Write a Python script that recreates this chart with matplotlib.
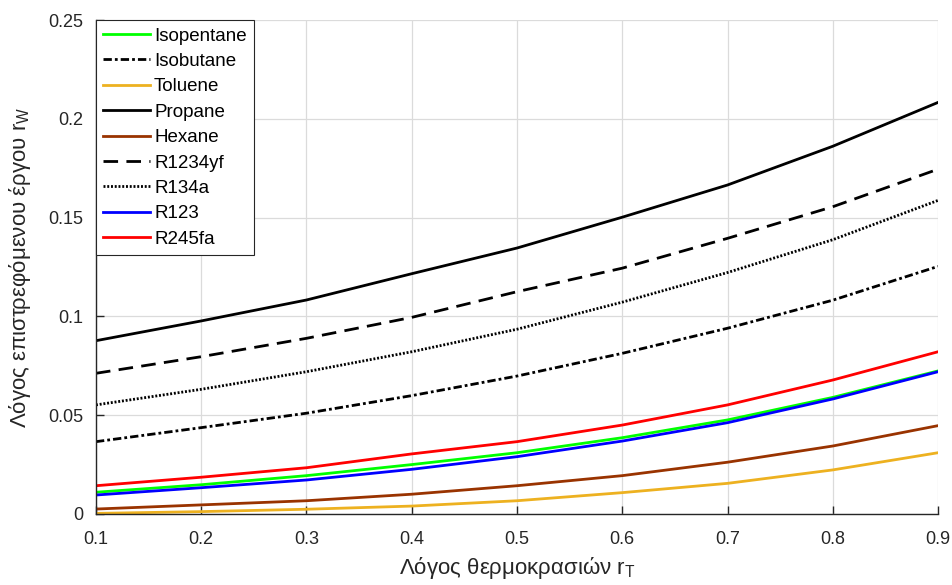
import matplotlib
matplotlib.use("Agg")
import matplotlib.pyplot as plt
from matplotlib.ticker import FuncFormatter

# Λόγος θερμοκρασιών r_T
r_T = [0.1, 0.2, 0.3, 0.4, 0.5, 0.6, 0.7, 0.8, 0.9]

# Λόγος επιστρεφόμενου έργου r_W (εκτίμηση από την εικόνα)
isopentane = [0.0110, 0.0148, 0.0194, 0.0250, 0.0310, 0.0386, 0.0476, 0.0590, 0.0724]
isobutane = [0.0366, 0.0437, 0.0510, 0.0599, 0.0698, 0.0813, 0.0940, 0.1082, 0.1253]
toluene = [0.0003, 0.0012, 0.0024, 0.0040, 0.0067, 0.0108, 0.0155, 0.0223, 0.0310]
propane = [0.0877, 0.0977, 0.1083, 0.1216, 0.1346, 0.1502, 0.1665, 0.1861, 0.2083]
hexane = [0.0025, 0.0046, 0.0067, 0.0100, 0.0143, 0.0194, 0.0262, 0.0344, 0.0447]
r1234yf = [0.0712, 0.0796, 0.0889, 0.0995, 0.1125, 0.1244, 0.1395, 0.1555, 0.1745]
r134a = [0.0552, 0.0631, 0.0720, 0.0821, 0.0935, 0.1072, 0.1222, 0.1388, 0.1587]
r123 = [0.0096, 0.0133, 0.0172, 0.0226, 0.0290, 0.0369, 0.0462, 0.0582, 0.0720]
r245fa = [0.0143, 0.0186, 0.0234, 0.0304, 0.0366, 0.0450, 0.0552, 0.0678, 0.0821]

labels = ["Isopentane", "Isobutane", "Toluene", "Propane", "Hexane",
          "R1234yf", "R134a", "R123", "R245fa"]

plt.rcParams["font.family"] = ["Liberation Sans", "DejaVu Sans"]
plt.rcParams["mathtext.fontset"] = "custom"
plt.rcParams["mathtext.rm"] = "Liberation Sans"
plt.rcParams["lines.scale_dashes"] = False

fig = plt.figure(figsize=(9.53, 5.85), dpi=100)
ax = fig.add_axes([0.1007, 0.1214, 0.8836, 0.8444])

styles = [
    dict(color=(0, 1, 0)),
    dict(color="black", dashes=(6, 2.2, 2, 2.2)),
    dict(color=(0.929, 0.694, 0.125)),
    dict(color="black"),
    dict(color=(0.6, 0.2, 0.0)),
    dict(color="black", dashes=(10.5, 6)),
    dict(color="black", dashes=(1.4, 1.3)),
    dict(color=(0, 0, 1)),
    dict(color=(1, 0, 0)),
]
series = [isopentane, isobutane, toluene, propane, hexane,
          r1234yf, r134a, r123, r245fa]

for y, lab, st in zip(series, labels, styles):
    ax.plot(r_T, y, lw=2.0, label=lab, **st)

ax.set_xlim(0.1, 0.9)
ax.set_ylim(0, 0.25)
ax.set_xticks([0.1, 0.2, 0.3, 0.4, 0.5, 0.6, 0.7, 0.8, 0.9])
ax.set_yticks([0, 0.05, 0.1, 0.15, 0.2, 0.25])
ax.yaxis.set_major_formatter(FuncFormatter(lambda v, p: f"{v:g}"))
ax.xaxis.set_major_formatter(FuncFormatter(lambda v, p: f"{v:g}"))

dark = (0.15, 0.15, 0.15)
ax.grid(True, color=(0.86, 0.86, 0.86), lw=0.9)
ax.set_axisbelow(True)
for s in ["top", "right"]:
    ax.spines[s].set_visible(False)
for s in ["left", "bottom"]:
    ax.spines[s].set_color(dark)
    ax.spines[s].set_linewidth(1.0)
ax.tick_params(direction="in", length=5.5, width=1.0, color=dark,
               labelcolor=dark, labelsize=13, pad=9)
ax.tick_params(axis="x", pad=12)

ax.set_xlabel(r"Λόγος θερμοκρασιών $\mathregular{r_T}$", fontsize=16,
              color=dark, labelpad=5)
ax.set_ylabel(r"Λόγος επιστρεφόμενου έργου $\mathregular{r_W}$", fontsize=16,
              color=dark, labelpad=11)

leg = ax.legend(loc="upper left", bbox_to_anchor=(0, 1), borderaxespad=0,
                fontsize=13.5, handlelength=2.5, handletextpad=0.2,
                labelspacing=0.44, borderpad=0.4, fancybox=False,
                framealpha=1, edgecolor=dark)
leg.get_frame().set_linewidth(0.8)

fig.savefig("out.png", dpi=100)
